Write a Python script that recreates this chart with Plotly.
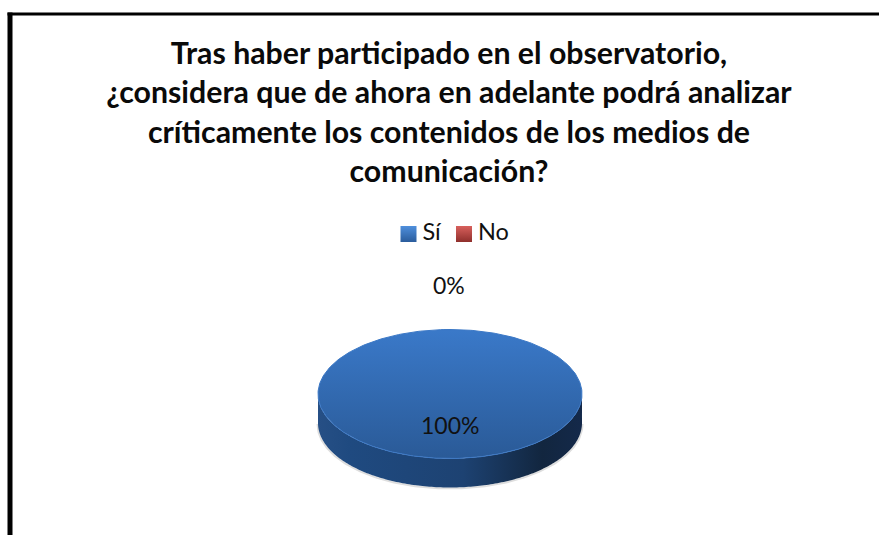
import numpy as np
import plotly.graph_objects as go

categories = ["Sí", "No"]
values = [100, 0]
title_lines = [
    "Tras haber participado en el observatorio,",
    "¿considera que de ahora en adelante podrá analizar",
    "críticamente los contenidos de los medios de",
    "comunicación?",
]

W, H = 879, 535
CX, CY, RX, RY, DEPTH = 450, 394, 132, 64.5, 29
FONT = "Lato, Carlito, Calibri, sans-serif"

def ux(p):
    return (p - CX) / RX

def uy(p):
    return (CY - p) / RY

shares = np.array(values, dtype=float) / sum(values)
bounds = np.concatenate([[0], np.cumsum(shares)]) * 2 * np.pi

top_scales = [
    [[0, "#2a5a97"], [1, "#3a79c9"]],
    [[0, "#8a2a28"], [1, "#c0504d"]],
]
side_scales = [
    [[0, "#264f85"], [0.12, "#1f4a80"], [0.55, "#1d4272"], [0.85, "#12263f"], [1, "#14294a"]],
    [[0, "#5c1a18"], [1, "#3a100f"]],
]

fig = go.Figure()

# soft shadow under the pie
t = np.linspace(np.pi, 2 * np.pi, 160)
fig.add_trace(go.Scatter(
    x=np.cos(t) * 1.004, y=np.sin(t) - (DEPTH + 1) / RY,
    mode="lines", line=dict(color="#dedede", width=2),
    showlegend=False, hoverinfo="skip"))

# side wall and top face for every slice, from the values
for i, name in enumerate(categories):
    if shares[i] <= 0:
        continue
    a = bounds[i]
    b = bounds[i + 1]
    ang = np.pi / 2 - np.linspace(a, b, 361)
    vis = np.sin(ang) < 0
    sx = np.cos(ang[vis])
    sy = np.sin(ang[vis])
    order = np.argsort(sx)
    sx, sy = sx[order], sy[order]
    fig.add_trace(go.Scatter(
        x=np.concatenate([sx, sx[::-1]]),
        y=np.concatenate([sy - DEPTH / RY, sy[::-1]]),
        mode="none", fill="toself",
        fillgradient=dict(type="horizontal", colorscale=side_scales[i]),
        showlegend=False, hoverinfo="skip"))
    full = shares[i] >= 1
    fx = np.cos(ang) if full else np.concatenate([[0], np.cos(ang), [0]])
    fy = np.sin(ang) if full else np.concatenate([[0], np.sin(ang), [0]])
    fig.add_trace(go.Scatter(
        x=fx, y=fy, mode="lines", fill="toself",
        line=dict(color="#3b78c6", width=1),
        fillgradient=dict(type="vertical", colorscale=top_scales[i]),
        name=name, showlegend=False,
        hovertemplate=f"{name}: {values[i]}<extra></extra>"))

# legend row
legend_px = [408.5, 464]
legend_gradients = ["#2a5c9c", "#8f2f2c"]
legend_edges = ["#4f8fdc", "#d8605c"]
for i, name in enumerate(categories):
    fig.add_trace(go.Scatter(
        x=[ux(legend_px[i])], y=[uy(234)],
        mode="markers+text", text=["\u2009" + name], textposition="middle right",
        textfont=dict(family=FONT, size=23.5, color="#111111"),
        marker=dict(symbol="square", size=16, color=legend_edges[i],
                    gradient=dict(type="vertical", color=legend_gradients[i]),
                    line=dict(width=0)),
        showlegend=False, hoverinfo="skip"))

# percentage labels
label_px = [(449, 285), (450, 425)]
label_order = [1, 0]
for i, (lx, ly) in zip(label_order, label_px):
    fig.add_annotation(
        x=ux(lx), y=uy(ly), xref="x", yref="y",
        text=f"{shares[i] * 100:.0f}%", showarrow=False,
        font=dict(family=FONT, size=23, color="#111111"))

fig.update_layout(
    width=W, height=H,
    margin=dict(l=0, r=0, t=0, b=0),
    paper_bgcolor="white", plot_bgcolor="white",
    showlegend=False,
    xaxis=dict(range=[ux(0), ux(W)], visible=False, fixedrange=True),
    yaxis=dict(range=[uy(H), uy(0)], visible=False, fixedrange=True),
    title=dict(
        text="<b>" + "<br>".join(title_lines) + "</b>",
        x=449 / W, xanchor="center", xref="paper",
        y=1 - 64 / H, yanchor="top", yref="container",
        font=dict(family=FONT, size=30.3, color="#0a0a0a")),
    shapes=[
        dict(type="line", xref="paper", yref="paper", x0=10 / W, x1=10 / W, y0=0, y1=1 - 12.5 / H,
             line=dict(color="black", width=5)),
        dict(type="line", xref="paper", yref="paper", x0=7.5 / W, x1=1, y0=1 - 14 / H, y1=1 - 14 / H,
             line=dict(color="black", width=3)),
    ],
)

fig.write_html("out.html", config=dict(displayModeBar=False),
               post_script="document.body.style.margin='0';document.body.style.overflow='hidden';")
